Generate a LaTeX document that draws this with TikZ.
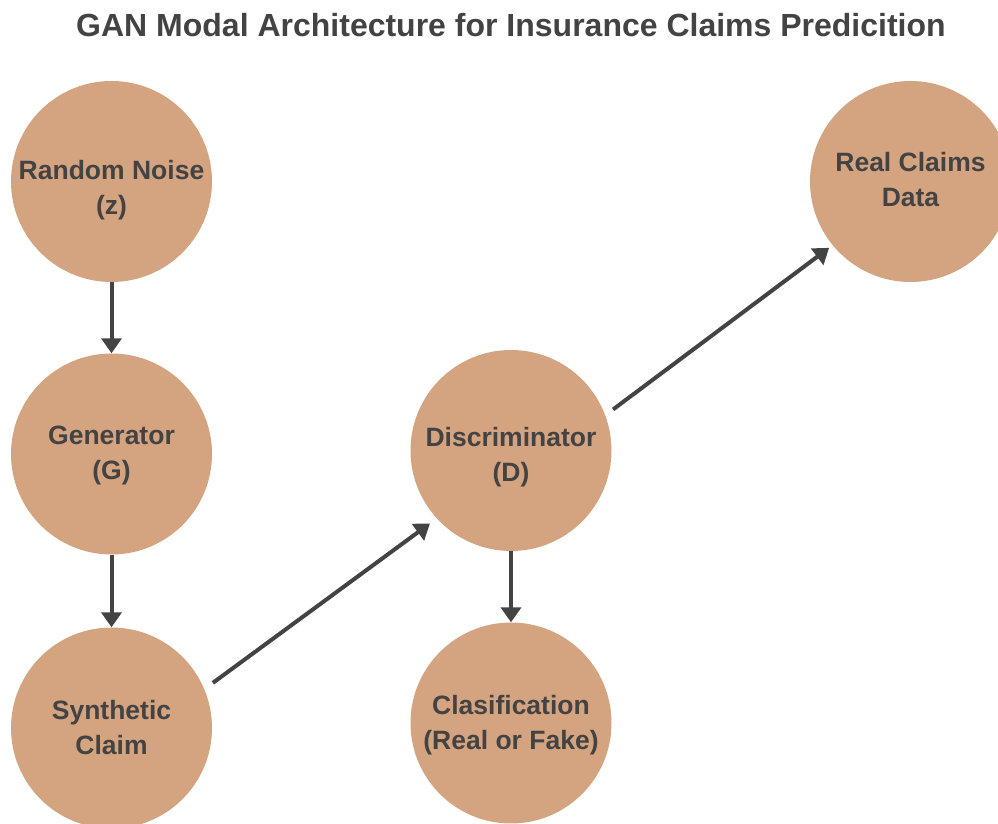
\documentclass[tikz,border=0pt]{standalone}
\usepackage{fontspec}
\setmainfont{Liberation Sans}
\usetikzlibrary{arrows.meta,calc}
\definecolor{nodefill}{HTML}{D4A37F}
\definecolor{inkgray}{HTML}{434343}
\newcommand{\circtext}[2]{\raisebox{-#1}[0pt][0pt]{\begin{tabular}{@{}c@{}}#2\end{tabular}}}
\tikzset{
  blob/.style={circle, fill=nodefill, draw=none, minimum size=201pt, inner sep=0pt,
    align=center, text=inkgray, font=\bfseries\fontsize{26.5}{35}\selectfont},
  flow/.style={draw=inkgray, line width=4pt, -{Triangle[width=20pt,length=15pt]}},
  heading/.style={text=inkgray, font=\bfseries\fontsize{32}{38}\selectfont, inner sep=0pt}
}
\begin{document}
\begin{tikzpicture}[x=1pt,y=1pt]
\useasboundingbox (0,0) rectangle (998,824);
\clip (0,0) rectangle (998,824);
\node[heading, anchor=base] (title) at (511,787) {GAN Modal Architecture for Insurance Claims Predicition};
\node[blob] (noise) at (111.5,642.5) {\circtext{14.6pt}{Random Noise\\(z)}};
\node[blob] (gen) at (111.5,370) {\circtext{7.6pt}{Generator\\(G)}};
\node[blob] (syn) at (111.5,96) {\circtext{8.6pt}{Synthetic\\Claim}};
\node[blob] (dis) at (511,373.5) {\circtext{12.6pt}{Discriminator\\(D)}};
\node[blob] (cls) at (511,101) {\circtext{8.6pt}{Clasification\\(Real or Fake)}};
\node[blob] (real) at (910.5,642.5) {\circtext{7.1pt}{Real Claims\\Data}};
\draw[flow] (noise.south) -- (gen.north);
\draw[flow] (gen.south) -- (syn.north);
\draw[flow] (dis.south) -- (cls.north);
\draw[flow] ($(syn)+(24:111)$) -- ($(dis)+(222:109)$);
\draw[flow] ($(dis)+(21.9:110)$) -- ($(real)+(219.2:105)$);
\end{tikzpicture}
\end{document}
